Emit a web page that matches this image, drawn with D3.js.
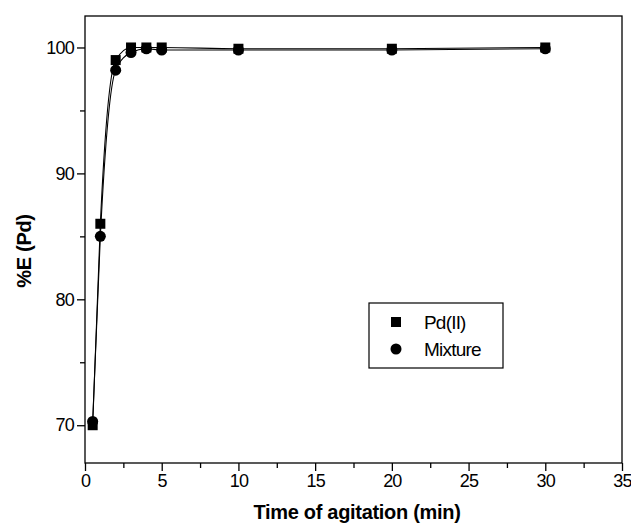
<!DOCTYPE html>
<html>
<head>
<meta charset="utf-8">
<script src="https://cdn.jsdelivr.net/npm/d3@7/dist/d3.min.js"></script>
<style>
    body { margin: 0; background: #fff; }
    text { font-family: "Liberation Sans Narrow", "Liberation Sans", Arial, sans-serif; fill: #000; }
    .title { font-family: "Liberation Sans", Arial, sans-serif; font-weight: bold; letter-spacing: -0.3px; }
</style>
</head>
<body>
<svg width="631" height="525"></svg>
<script>
    // time of agitation (min)
    const timePd = [0.5, 1, 2, 3, 4, 5, 10, 20, 30];
    const pdValues = [70.0, 86.0, 99.0, 100.0, 100.0, 100.0, 99.9, 99.9, 100.0];
    const timeMix = [0.5, 1, 2, 3, 4, 5, 10, 20, 30];
    const mixValues = [70.3, 85.0, 98.2, 99.6, 99.9, 99.8, 99.8, 99.8, 99.9];
    const xTicks = [0, 5, 10, 15, 20, 25, 30, 35];
    const yTicks = [70, 80, 90, 100];
    const legendLabels = ["Pd(II)", "Mixture"];

    const svg = d3.select("svg");
    const mLeft = 85, mRight = 622, mTop = 16, mBottom = 463;

    const x = d3.scaleLinear().domain([0, 35]).range([mLeft, mRight]);
    const y = d3.scaleLinear().domain([67, 102.5]).range([mBottom, mTop]);

    const pd = timePd.map((t, i) => ({ t: t, v: pdValues[i] }));
    const mix = timeMix.map((t, i) => ({ t: t, v: mixValues[i] }));

    // frame
    svg.append("rect")
        .attr("x", mLeft).attr("y", mTop)
        .attr("width", mRight - mLeft).attr("height", mBottom - mTop)
        .attr("fill", "none").attr("stroke", "#000").attr("stroke-width", 1.3);

    // x axis: major + minor ticks
    const xAxis = svg.append("g").attr("transform", `translate(0,${mBottom})`);
    xAxis.call(d3.axisBottom(x).tickValues(d3.range(2.5, 35, 5)).tickSize(5).tickFormat(""));
    xAxis.append("g").call(d3.axisBottom(x).tickValues(xTicks).tickSize(8).tickPadding(3));
    xAxis.selectAll("path.domain").remove();
    xAxis.selectAll("line").attr("stroke-width", 1.3);
    xAxis.selectAll("text").style("font-size", "18px").style("letter-spacing", "-0.8px");

    // y axis
    const yAxis = svg.append("g").attr("transform", `translate(${mLeft},0)`);
    yAxis.call(d3.axisLeft(y).tickValues(d3.range(75, 101, 10)).tickSize(5).tickFormat(""));
    yAxis.append("g").call(d3.axisLeft(y).tickValues(yTicks).tickSize(8).tickPadding(3));
    yAxis.selectAll("path.domain").remove();
    yAxis.selectAll("line").attr("stroke-width", 1.3);
    yAxis.selectAll("text").style("font-size", "18px").style("letter-spacing", "-0.8px");

    // curves
    const curve = d3.line().x(d => x(d.t)).y(d => y(d.v)).curve(d3.curveMonotoneX);
    [pd, mix].forEach(s => {
        svg.append("path").datum(s)
            .attr("d", curve)
            .attr("fill", "none").attr("stroke", "#000").attr("stroke-width", 1.1);
    });

    // markers
    svg.selectAll("circle.mix").data(mix).enter()
        .append("circle").attr("class", "mix")
        .attr("cx", d => x(d.t)).attr("cy", d => y(d.v)).attr("r", 5.5);
    svg.selectAll("rect.pd").data(pd).enter()
        .append("rect").attr("class", "pd")
        .attr("x", d => x(d.t) - 5).attr("y", d => y(d.v) - 5)
        .attr("width", 10).attr("height", 10);

    // legend
    const lg = svg.append("g");
    lg.append("rect").attr("x", 369).attr("y", 303).attr("width", 134).attr("height", 65)
        .attr("fill", "#fff").attr("stroke", "#000").attr("stroke-width", 1.2);
    lg.append("rect").attr("x", 391).attr("y", 317).attr("width", 10).attr("height", 10);
    lg.append("circle").attr("cx", 396).attr("cy", 349).attr("r", 5.5);
    legendLabels.forEach((l, i) => {
        lg.append("text").attr("x", 424).attr("y", 329 + i * 27)
            .style("font-size", "19px").style("letter-spacing", "-0.8px").text(l);
    });

    // axis titles
    svg.append("text").attr("class", "title")
        .attr("x", 357).attr("y", 519)
        .attr("text-anchor", "middle").style("font-size", "20px")
        .text("Time of agitation (min)");
    svg.append("text").attr("class", "title")
        .attr("transform", `translate(31,251) rotate(-90)`)
        .attr("text-anchor", "middle").style("font-size", "20px")
        .text("%E (Pd)");
</script>
</body>
</html>
